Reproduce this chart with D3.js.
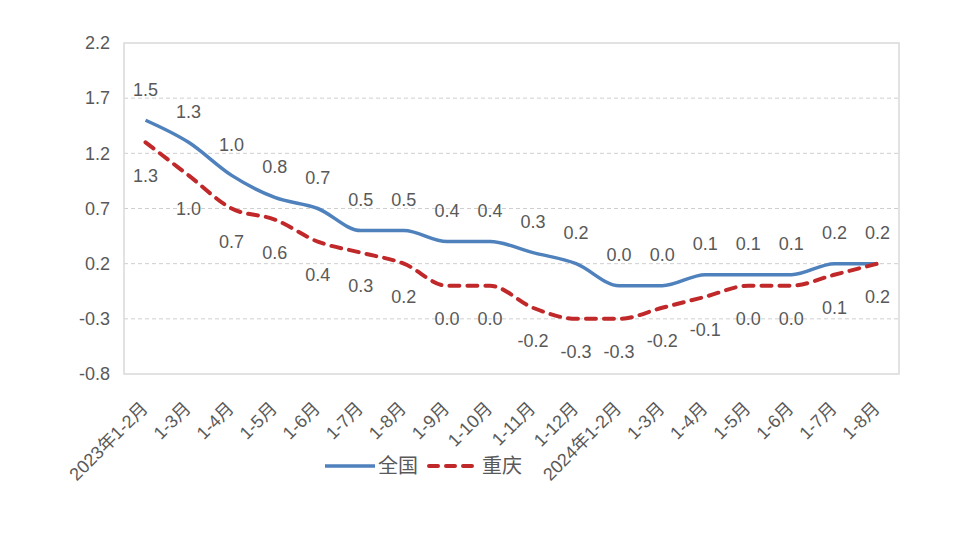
<!DOCTYPE html>
<html><head><meta charset="utf-8">
<script src="https://cdn.jsdelivr.net/npm/d3@7"></script>
<style>
html,body{margin:0;padding:0;background:#fff;}
text{font-family:"Liberation Sans","Noto Sans CJK SC",sans-serif;fill:#595959;}
</style></head>
<body><svg id="c" width="960" height="552"></svg>
<script>
const categories = ["2023年1-2月","1-3月","1-4月","1-5月","1-6月","1-7月","1-8月","1-9月","1-10月","1-11月","1-12月","2024年1-2月","1-3月","1-4月","1-5月","1-6月","1-7月","1-8月"];
const nationalValues = [1.5,1.3,1.0,0.8,0.7,0.5,0.5,0.4,0.4,0.3,0.2,0.0,0.0,0.1,0.1,0.1,0.2,0.2];
const chongqingValues = [1.3,1.0,0.7,0.6,0.4,0.3,0.2,0.0,0.0,-0.2,-0.3,-0.3,-0.2,-0.1,0.0,0.0,0.1,0.2];
const yTicks = [-0.8,-0.3,0.2,0.7,1.2,1.7,2.2];
const seriesNames = ["全国","重庆"];

const svg = d3.select("#c");
const L = 124, R = 899, T = 43, B = 374;
const x = d3.scalePoint().domain(d3.range(categories.length)).range([L, R]).padding(0.5);
const y = d3.scaleLinear().domain([-0.8, 2.2]).range([B, T]);
const fmt = d3.formatLocale({decimal: ".", thousands: ",", grouping: [3], currency: ["", ""], minus: "-"}).format(".1f");

// grid
svg.append("g").selectAll("line").data(yTicks.filter(v => v > -0.8 && v < 2.2)).join("line")
  .attr("x1", L).attr("x2", R).attr("y1", d => y(d)).attr("y2", d => y(d))
  .attr("stroke", "#cfcfcf").attr("stroke-width", 1).attr("stroke-dasharray", "4,3");
// plot border
svg.append("rect").attr("x", L).attr("y", T).attr("width", R - L).attr("height", B - T)
  .attr("fill", "none").attr("stroke", "#d9d9d9").attr("stroke-width", 1.5);

// y axis labels
const yAxis = d3.axisLeft(y).tickValues(yTicks).tickFormat(fmt).tickSize(0).tickPadding(14);
const ya = svg.append("g").attr("transform", `translate(${L},0)`).call(yAxis);
ya.select(".domain").remove();
ya.selectAll("text").attr("font-size", 18).style("font-family", '"Liberation Sans","Noto Sans CJK SC",sans-serif').attr("fill", "#595959");

// x axis labels
const xg = svg.append("g");
xg.selectAll("text").data(categories).join("text")
  .attr("transform", (d, i) => `translate(${x(i) - 1},${B + 31}) rotate(-45)`)
  .attr("text-anchor", "end").attr("dy", "0.35em").attr("font-size", 18).text(d => d);

const line = d3.line().x((d, i) => x(i)).y(d => y(d)).curve(d3.curveMonotoneX);

svg.append("path").datum(nationalValues).attr("d", line).attr("fill", "none")
  .attr("stroke", "#4F81BD").attr("stroke-width", 3.5).attr("stroke-linejoin", "round");
svg.append("path").datum(chongqingValues).attr("d", line).attr("fill", "none")
  .attr("stroke", "#C0282A").attr("stroke-width", 4).attr("stroke-dasharray", "10,8").attr("stroke-linecap", "round");

// data labels
svg.append("g").selectAll("text").data(nationalValues).join("text")
  .attr("x", (d, i) => x(i)).attr("y", d => y(d) - 31).attr("dy", "0.35em")
  .attr("text-anchor", "middle").attr("font-size", 18).text(d => fmt(d));
svg.append("g").selectAll("text").data(chongqingValues).join("text")
  .attr("x", (d, i) => x(i)).attr("y", d => y(d) + 33).attr("dy", "0.35em")
  .attr("text-anchor", "middle").attr("font-size", 18).text(d => fmt(d));

// legend
const lg = svg.append("g");
lg.append("line").attr("x1", 325).attr("x2", 375).attr("y1", 466).attr("y2", 466)
  .attr("stroke", "#4F81BD").attr("stroke-width", 3.5);
lg.append("text").attr("x", 378).attr("y", 466).attr("dy", "0.35em").attr("font-size", 20).text(seriesNames[0]);
lg.append("line").attr("x1", 429).attr("x2", 476).attr("y1", 466).attr("y2", 466)
  .attr("stroke", "#C0282A").attr("stroke-width", 4).attr("stroke-dasharray", "9,8").attr("stroke-linecap", "round");
lg.append("text").attr("x", 482).attr("y", 466).attr("dy", "0.35em").attr("font-size", 20).text(seriesNames[1]);
</script></body></html>
